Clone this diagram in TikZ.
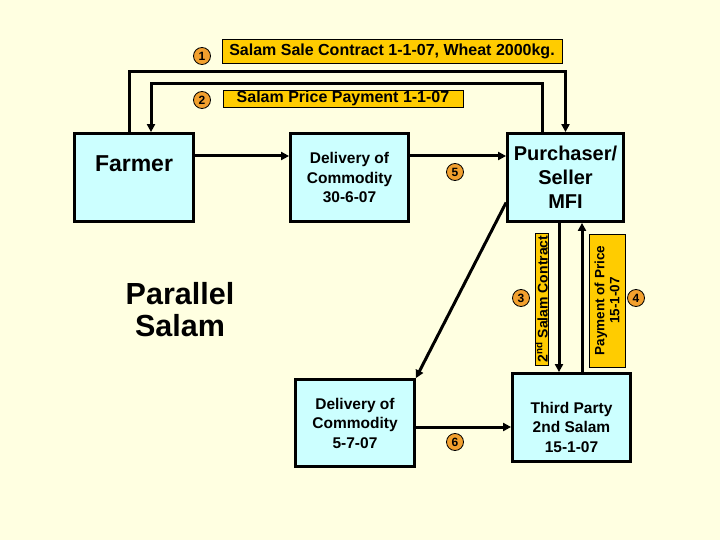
\documentclass[tikz,border=0pt]{standalone}
\usepackage{fontspec}
\setmainfont{Liberation Sans}
\usetikzlibrary{arrows.meta}
\definecolor{fondo}{HTML}{FFFFE1}
\definecolor{celeste}{HTML}{CCFFFF}
\definecolor{oro}{HTML}{FFCC00}
\definecolor{naranja}{HTML}{F2A02E}
\tikzset{
    >={Triangle[length=8pt,width=8pt]},
    caja/.style={
        draw,
        line width=2.8pt,
        fill=celeste,
        align=center,
        inner sep=0pt,
        minimum width=118pt,
        minimum height=88pt,
        font=\bfseries\fontsize{15.5}{19.5}\selectfont
    },
    etiqueta/.style={
        draw,
        line width=0.8pt,
        fill=oro,
        inner sep=0pt,
        font=\bfseries\fontsize{16}{19}\selectfont
    },
    paso/.style={
        circle,
        draw,
        line width=0.8pt,
        fill=naranja,
        minimum size=17pt,
        inner sep=0pt,
        font=\bfseries\fontsize{12}{12}\selectfont
    },
    flecha/.style={
        line width=3pt,
        line join=miter
    }
}

\begin{document}
\begin{tikzpicture}[
    x=1pt,
    y=-1pt
]
    \useasboundingbox[fill=fondo] (0,0) rectangle (720,540);

    % Cajas
    \node[caja, minimum width=119pt, font=\bfseries\fontsize{23}{28}\selectfont]
        (farmer) at (134,177.5) {Farmer\rule[-28pt]{0pt}{1pt}};
    \node[caja] (deliv1) at (349.5,177.5) {Delivery of\\Commodity\\30-6-07};
    \node[caja, minimum width=116pt, font=\bfseries\fontsize{20}{24}\selectfont]
        (purch) at (565.5,177.5) {Purchaser/\\Seller\\MFI};
    \node[caja, minimum width=119pt, minimum height=87pt]
        (deliv2) at (355,423) {Delivery of\\Commodity\\5-7-07};
    \node[caja] (third) at (571.5,417.5) {\rule{0pt}{31pt}Third Party\\2nd Salam\\15-1-07};

    % Titulo
    \node[align=center, inner sep=0pt, font=\bfseries\fontsize{30.5}{32}\selectfont]
        (titulo) at (180,310) {Parallel\\Salam};

    % Puntos de paso
    \coordinate (alto1) at (0,72);
    \coordinate (alto2) at (0,84);
    \coordinate (f1) at ([xshift=-5pt]farmer.north);
    \coordinate (f2) at ([xshift=17pt]farmer.north);
    \coordinate (p2) at ([xshift=-23.5pt]purch.north);
    \coordinate (p3) at ([xshift=-6.5pt]purch.south);
    \coordinate (t4) at ([xshift=10.5pt]third.north);
    \coordinate (p5) at ([yshift=-25pt]purch.west);
    \coordinate (d6) at ([yshift=-4pt]deliv2.east);

    % Flechas
    \draw[flecha, ->] (f1) |- (alto1 -| purch.north) -- (purch.north);
    \draw[flecha, ->] (p2) |- (alto2 -| f2) -- (f2);
    \draw[flecha, ->] ([yshift=21.5pt]farmer.east) -- ([yshift=21.5pt]deliv1.west);
    \draw[flecha, ->] ([yshift=21.5pt]deliv1.east) -- ([yshift=21.5pt]purch.west);
    \draw[flecha, ->] (p5) -- (deliv2.north east);
    \draw[flecha, ->] (p3) -- (p3 |- third.north);
    \draw[flecha, ->] (t4) -- (t4 |- purch.south);
    \draw[flecha, ->] (d6) -- (d6 -| third.west);

    % Etiquetas
    \node[etiqueta, minimum width=340pt, minimum height=24pt]
        (lab1) at (392,51) {Salam Sale Contract 1-1-07, Wheat 2000kg.};
    \node[etiqueta, minimum width=240pt, minimum height=17pt]
        (lab2) at (343,98.5) {Salam Price Payment 1-1-07};
    \node[etiqueta, rotate=90, minimum width=132pt, minimum height=13pt,
          font=\bfseries\fontsize{14}{14}\selectfont]
        (lab3) at (541.5,299) {2\textsuperscript{nd} Salam Contract};
    \node[etiqueta, rotate=90, minimum width=133pt, minimum height=36pt, align=center,
          font=\bfseries\fontsize{13.5}{15}\selectfont]
        (lab4) at (607,300.5) {Payment of Price\\15-1-07};

    % Numeros
    \node[paso] (n1) at (202,56)    {1};
    \node[paso] (n2) at (202,100)   {2};
    \node[paso] (n3) at (521,298)   {3};
    \node[paso] (n4) at (636,298)   {4};
    \node[paso] (n5) at (455,172)   {5};
    \node[paso] (n6) at (455,442)   {6};

\end{tikzpicture}
\end{document}
